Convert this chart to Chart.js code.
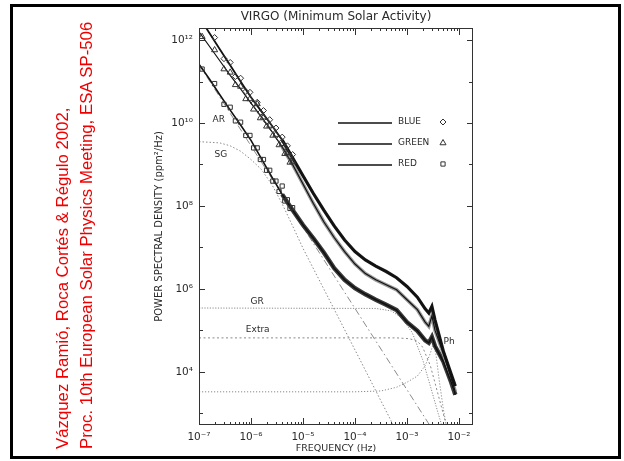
<!DOCTYPE html>
<html>
<head>
<meta charset="utf-8">
<title>VIRGO power spectra</title>
<script src="https://cdn.jsdelivr.net/npm/chart.js@4.4.1/dist/chart.umd.min.js"></script>
<style>
  html, body { margin: 0; padding: 0; background: #fff; }
  #wrap { position: relative; width: 624px; height: 461px; overflow: hidden; }
  #chart { position: absolute; left: 0; top: 0; }
  #frame { position: absolute; left: 10px; top: 4px; width: 611px; height: 455px;
           border: 3px solid #000; box-sizing: border-box; pointer-events: none; }
  #cite { position: absolute; left: 51px; top: 449px; transform-origin: 0 0;
          transform: rotate(-90deg); white-space: nowrap; color: #e00;
          font: 16.8px "Liberation Sans", Arial, sans-serif; line-height: 24px; }
</style>
</head>
<body>
<div id="wrap">
  <canvas id="chart" width="624" height="461"></canvas>
  <div id="cite">Vázquez Ramió, Roca Cortés &amp; Régulo 2002,<br>Proc. 10th European Solar Physics Meeting, ESA SP-506</div>
  <div id="frame"></div>
</div>
<script>
// All values are log10 readings: frequency in Hz, power in ppm^2/Hz

// --- fitted curves (solid lines) ---
const FIT_LOGF = [-7.0, -6.8, -6.6, -6.4, -6.2, -6.0, -5.8, -5.6, -5.4, -5.2, -5.0, -4.8, -4.6, -4.4,
                  -4.2, -4.0, -3.8, -3.6, -3.4, -3.2, -3.0, -2.8, -2.65, -2.58, -2.52, -2.46, -2.3, -2.15, -2.07];
const BLUE_FIT  = [12.56, 12.17, 11.78, 11.39, 11.00, 10.62, 10.28, 9.94, 9.59, 9.16, 8.73, 8.30, 7.90, 7.52,
                   7.18, 6.90, 6.70, 6.55, 6.42, 6.27, 6.06, 5.80, 5.52, 5.42, 5.58, 5.25, 4.50, 3.95, 3.66];
const GREEN_FIT = [12.20, 11.85, 11.50, 11.15, 10.82, 10.48, 10.15, 9.80, 9.42, 9.00, 8.53, 8.06, 7.62, 7.24,
                   6.90, 6.60, 6.37, 6.22, 6.10, 5.98, 5.74, 5.50, 5.20, 5.10, 5.35, 5.00, 4.45, 3.85, 3.52];
const RED_FIT   = [11.42, 11.06, 10.68, 10.31, 9.95, 9.58, 9.14, 8.70, 8.28, 7.90, 7.54, 7.22, 6.88, 6.50,
                   6.22, 6.02, 5.87, 5.74, 5.62, 5.49, 5.20, 4.99, 4.76, 4.70, 4.84, 4.62, 4.25, 3.75, 3.45];
// above this frequency the measured points merge into a dense band
const BAND_FROM = -5.4;

// --- measured points at low frequency (markers) ---
const MARK_LOGF = [-6.94, -6.70, -6.52, -6.40, -6.30, -6.20, -6.10, -6.02, -5.95, -5.88, -5.82,
                   -5.76, -5.70, -5.64, -5.58, -5.52, -5.46, -5.40, -5.35, -5.30, -5.25, -5.20];
const BLUE_PTS  = [12.40, 12.06, 11.55, 11.46, 11.12, 11.08, 10.76, 10.74, 10.47, 10.50, 10.25,
                   10.30, 10.04, 10.08, 9.84, 9.88, 9.62, 9.66, 9.42, 9.45, 9.20, 9.24];
const GREEN_PTS = [12.08, 11.76, 11.30, 11.22, 10.92, 10.88, 10.58, 10.58, 10.33, 10.46, 10.12,
                   10.14, 9.92, 9.94, 9.70, 9.72, 9.47, 9.50, 9.26, 9.28, 9.05, 9.06];
const RED_PTS   = [11.30, 10.95, 10.45, 10.38, 10.05, 10.02, 9.70, 9.70, 9.40, 9.40, 9.12,
                   9.12, 8.86, 8.86, 8.60, 8.60, 8.35, 8.48, 8.12, 8.15, 7.94, 7.96];

// --- model components (broken lines) ---
const AR_LOGF    = [-7.0, -6.0, -5.0, -4.0, -3.0, -2.3];
const AR_POW     = [11.41, 9.45, 7.49, 5.53, 3.57, 2.20];
const SG_LOGF    = [-7.0, -6.6, -6.4, -6.2, -6.0, -5.8, -5.6, -5.4, -5.2, -5.0, -4.6, -4.0, -3.5, -3.2];
const SG_POW     = [9.55, 9.52, 9.45, 9.32, 9.12, 8.88, 8.52, 8.05, 7.52, 6.98, 6.00, 4.53, 3.30, 2.56];
const GR_LOGF    = [-7.0, -3.6, -3.3, -3.1, -2.9, -2.7, -2.56, -2.4, -2.28];
const GR_POW     = [5.54, 5.53, 5.47, 5.30, 4.95, 4.30, 3.70, 3.00, 2.50];
const EXTRA_LOGF = [-7.0, -3.2, -2.95, -2.8, -2.7, -2.55, -2.4, -2.25];
const EXTRA_POW  = [4.82, 4.82, 4.80, 4.74, 4.60, 4.15, 3.45, 2.75];
const PH_LOGF    = [-7.0, -4.0, -3.5, -3.2, -3.0, -2.8, -2.65, -2.55, -2.49, -2.44, -2.38, -2.3, -2.22];
const PH_POW     = [3.52, 3.52, 3.54, 3.63, 3.75, 3.90, 4.15, 4.45, 4.70, 4.40, 3.80, 3.10, 2.55];

// --- axes ---
const X_RANGE = [-7.0, -1.73];
const Y_RANGE = [2.72, 12.29];
const X_DECADES = [-7, -6, -5, -4, -3, -2];
const X_MINOR = [2, 3, 4, 5, 6, 7, 8, 9];
const Y_DECADES = [3, 4, 5, 6, 7, 8, 9, 10, 11, 12];
const Y_LABELLED = [4, 6, 8, 10, 12];

const TITLE = 'VIRGO (Minimum Solar Activity)';
const SERIES = ['BLUE', 'GREEN', 'RED'];
const COMPONENTS = ['AR', 'SG', 'GR', 'Extra', 'Ph'];

// where the component names sit, in data units (log10)
const LABEL_AT = { AR: [-6.62, 10.07], SG: [-6.58, 9.23], GR: [-5.88, 5.69], Extra: [-5.87, 5.01], Ph: [-2.19, 4.72] };

const FONT = '"DejaVu Sans", sans-serif';
const INK = '#2a2a2a';
const SUP = { '-': '\u207B', '0': '\u2070', '1': '\u00B9', '2': '\u00B2', '3': '\u00B3', '4': '\u2074',
              '5': '\u2075', '6': '\u2076', '7': '\u2077', '8': '\u2078', '9': '\u2079' };

function pts(logf, logp) {
  return logf.map((f, i) => ({ x: Math.pow(10, f), y: Math.pow(10, logp[i]) }));
}

function band(logp) {
  return pts(FIT_LOGF, logp).filter((p, i) => FIT_LOGF[i] >= BAND_FROM);
}

function powLabel(v) {
  const e = String(Math.round(Math.log10(v)));
  return '10' + e.split('').map(c => SUP[c]).join('');
}

function fitSet(label, logp, width) {
  return { label, data: pts(FIT_LOGF, logp), showLine: true, borderColor: '#111', borderWidth: width,
           pointRadius: 0, order: 2 };
}

function bandSet(label, logp, color, width) {
  return { label, data: band(logp), showLine: true, borderColor: color, borderWidth: width,
           pointRadius: 0, order: 3 };
}

function markSet(label, logp, style, radius) {
  return { label, data: pts(MARK_LOGF, logp), showLine: false, pointStyle: style, pointRadius: radius,
           pointBorderColor: '#333', pointBackgroundColor: 'rgba(0,0,0,0)', pointBorderWidth: 1, order: 1 };
}

function compSet(label, logf, logp, dash) {
  return { label, data: pts(logf, logp), showLine: true, borderColor: '#8a8a8a', borderWidth: 1,
           borderDash: dash, pointRadius: 0, order: 5 };
}

const MARKERS = { BLUE: ['rectRot', 3], GREEN: ['triangle', 3.5], RED: ['rect', 3] };

// --- drawing of frame ticks, title, legend and component names ---
const decor = {
  id: 'decor',
  afterDraw(chart) {
    const { ctx, chartArea: a, scales: { x, y } } = chart;
    ctx.save();
    ctx.strokeStyle = '#333';
    ctx.lineWidth = 1;
    ctx.strokeRect(a.left + 0.5, a.top + 0.5, a.right - a.left - 1, a.bottom - a.top - 1);

    const seg = (x1, y1, x2, y2) => { ctx.beginPath(); ctx.moveTo(x1, y1); ctx.lineTo(x2, y2); ctx.stroke(); };
    X_DECADES.forEach(d => {
      const px = Math.round(x.getPixelForValue(Math.pow(10, d))) + 0.5;
      seg(px, a.bottom, px, a.bottom - 7);
      seg(px, a.top, px, a.top + 7);
      X_MINOR.forEach(m => {
        const v = m * Math.pow(10, d);
        if (v >= Math.pow(10, X_RANGE[1])) return;
        const mx = Math.round(x.getPixelForValue(v)) + 0.5;
        seg(mx, a.bottom, mx, a.bottom - 3);
        seg(mx, a.top, mx, a.top + 3);
      });
    });
    Y_DECADES.forEach(d => {
      const py = Math.round(y.getPixelForValue(Math.pow(10, d))) + 0.5;
      const len = Y_LABELLED.includes(d) ? 6 : 4;
      seg(a.left, py, a.left + len, py);
      seg(a.right, py, a.right - len, py);
    });

    ctx.fillStyle = INK;
    ctx.textBaseline = 'middle';
    ctx.textAlign = 'center';
    ctx.font = '12px ' + FONT;
    ctx.fillText(TITLE, (a.left + a.right) / 2, a.top - 11);

    // legend box inside the plot
    ctx.font = '9px ' + FONT;
    SERIES.forEach((name, i) => {
      const ly = a.top + 95 + i * 21;
      ctx.lineWidth = 1.6;
      ctx.strokeStyle = '#111';
      seg(a.left + 139, ly, a.left + 193, ly);
      ctx.textAlign = 'left';
      ctx.fillText(name, a.left + 199, ly - 1);
      ctx.lineWidth = 1;
      ctx.strokeStyle = '#333';
      ctx.fillStyle = 'rgba(0,0,0,0)';
      Chart.helpers.drawPoint(ctx, { pointStyle: MARKERS[name][0], radius: MARKERS[name][1], borderWidth: 1 },
                              a.left + 244, ly - 1);
      ctx.fillStyle = INK;
    });

    ctx.font = '9px ' + FONT;
    ctx.textAlign = 'center';
    COMPONENTS.forEach(name => {
      const [f, p] = LABEL_AT[name];
      ctx.fillText(name, x.getPixelForValue(Math.pow(10, f)), y.getPixelForValue(Math.pow(10, p)));
    });
    ctx.restore();
  }
};

Chart.defaults.font.family = FONT;
Chart.defaults.color = INK;

new Chart(document.getElementById('chart'), {
  type: 'scatter',
  data: {
    datasets: [
      markSet('BLUE points', BLUE_PTS, MARKERS.BLUE[0], MARKERS.BLUE[1]),
      markSet('GREEN points', GREEN_PTS, MARKERS.GREEN[0], MARKERS.GREEN[1]),
      markSet('RED points', RED_PTS, MARKERS.RED[0], MARKERS.RED[1]),
      fitSet('BLUE', BLUE_FIT, 1.8),
      fitSet('GREEN', GREEN_FIT, 1.2),
      fitSet('RED', RED_FIT, 1.6),
      bandSet('BLUE band', BLUE_FIT, '#1c1c1c', 3.2),
      bandSet('GREEN band', GREEN_FIT, '#9a9a9a', 3.6),
      bandSet('RED band', RED_FIT, '#3a3a3a', 4.4),
      compSet('AR', AR_LOGF, AR_POW, [7, 3, 1.5, 3]),
      compSet('SG', SG_LOGF, SG_POW, [1.5, 2]),
      compSet('GR', GR_LOGF, GR_POW, [1.2, 1.5]),
      compSet('Extra', EXTRA_LOGF, EXTRA_POW, [2, 2.5]),
      compSet('Ph', PH_LOGF, PH_POW, [1.2, 1.8])
    ]
  },
  options: {
    responsive: false,
    animation: false,
    events: [],
    layout: { padding: { left: 150, right: 151, top: 28, bottom: 0 } },
    plugins: { legend: { display: false }, tooltip: { enabled: false } },
    scales: {
      x: {
        type: 'logarithmic',
        min: Math.pow(10, X_RANGE[0]),
        max: Math.pow(10, X_RANGE[1]),
        afterBuildTicks: s => { s.ticks = X_DECADES.map(d => ({ value: Math.pow(10, d) })); },
        afterFit: s => { s.height = 36; },
        grid: { display: false, drawTicks: false },
        border: { display: false },
        ticks: { callback: v => powLabel(v), autoSkip: false, maxRotation: 0, padding: 6,
                 font: { size: 10.5 }, color: INK },
        title: { display: true, text: 'FREQUENCY (Hz)', font: { size: 9.5 }, color: INK,
                 padding: { top: 0, bottom: 7 } }
      },
      y: {
        type: 'logarithmic',
        min: Math.pow(10, Y_RANGE[0]),
        max: Math.pow(10, Y_RANGE[1]),
        afterBuildTicks: s => { s.ticks = Y_LABELLED.map(d => ({ value: Math.pow(10, d) })); },
        afterFit: s => { s.width = 49; },
        grid: { display: false, drawTicks: false },
        border: { display: false },
        ticks: { callback: v => powLabel(v), autoSkip: false, padding: 6, font: { size: 10.5 }, color: INK },
        title: { display: true, text: 'POWER SPECTRAL DENSITY (ppm\u00B2/Hz)', font: { size: 10 }, color: INK,
                 padding: { top: 3, bottom: 0 } }
      }
    }
  },
  plugins: [decor]
});
</script>
</body>
</html>
